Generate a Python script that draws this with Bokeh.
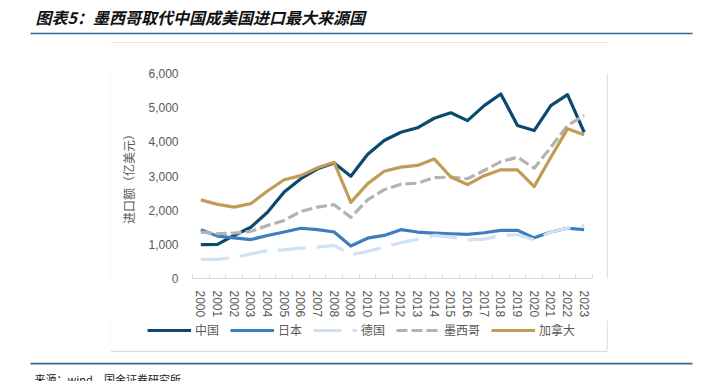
from bokeh.plotting import figure
from bokeh.models import (Legend, LegendItem, FixedTicker, NumeralTickFormatter, Range1d)
from bokeh.layouts import column, row
from bokeh.core.properties import value
from bokeh.embed import file_html
from bokeh.resources import INLINE

years = list(range(2000, 2024))
year_labels = [str(y) for y in years]

china = [990, 1000, 1260, 1500, 1940, 2530, 2920, 3210, 3380, 2990, 3630, 4040,
         4280, 4410, 4690, 4850, 4620, 5060, 5400, 4480, 4330, 5060, 5380, 4280]
japan = [1430, 1240, 1190, 1140, 1260, 1360, 1470, 1430, 1360, 950, 1180, 1260,
         1430, 1360, 1330, 1310, 1290, 1340, 1410, 1410, 1190, 1360, 1470, 1430]
germany = [560, 560, 620, 720, 820, 840, 890, 920, 970, 700, 790, 920,
           1050, 1150, 1260, 1210, 1130, 1150, 1260, 1280, 1130, 1360, 1470, 1550]
mexico = [1360, 1310, 1330, 1380, 1550, 1700, 1960, 2090, 2160, 1790, 2300, 2600,
          2760, 2790, 2950, 2970, 2920, 3160, 3420, 3550, 3230, 3840, 4480, 4770]
canada = [2300, 2170, 2090, 2190, 2560, 2890, 3010, 3240, 3400, 2230, 2770, 3140,
          3260, 3310, 3500, 2970, 2750, 3010, 3180, 3180, 2690, 3550, 4380, 4210]

series_names = ["中国", "日本", "德国", "墨西哥", "加拿大"]
y_ticks = [0, 1000, 2000, 3000, 4000, 5000, 6000]

title_text = "图表5：墨西哥取代中国成美国进口最大来源国"
source_text = "来源：wind，国金证券研究所"
y_label = "进口额（亿美元）"

CJK = "Noto Sans CJK SC"
LAT = "Liberation Sans"
GRAY = "#595959"
RULE = "#2d6a98"
BOX = "#dcdcdc"

W = 700


def deco(width, height):
    f = figure(width=width, height=height, output_backend="svg", toolbar_location=None,
               x_range=Range1d(0, width), y_range=Range1d(height, 0),
               min_border=0, x_axis_type=None, y_axis_type=None)
    f.outline_line_color = None
    f.grid.visible = False
    f.border_fill_color = "white"
    f.background_fill_color = "white"
    return f


def side_pair(h):
    lf = deco(111, h)
    lf.quad(left=[110.2], right=[111.5], top=[0], bottom=[h], fill_color=BOX,
            line_color=None)
    rf = deco(W - 606, h)
    rf.quad(left=[0], right=[1.3], top=[0], bottom=[h], fill_color=BOX,
            line_color=None)
    return lf, rf


# header (page y 0..43)
head = deco(W, 43)
head.text(x=[35], y=[16], text=[title_text], text_font=value(CJK),
          text_font_size="16px", text_font_style="bold italic",
          text_color="#111111", text_baseline="middle", text_align="left")
head.quad(left=[30], right=[692], top=[32.2], bottom=[33.8], fill_color=RULE,
          line_color=None)
head.quad(left=[110.2], right=[607], top=[41.8], bottom=[43.5], fill_color=BOX,
          line_color=None)

# main chart (page x 111..606, y 43..320)
MH = 277
p = figure(width=495, height=MH, output_backend="svg", toolbar_location=None,
           min_border_left=81, min_border_right=14, min_border_top=30,
           min_border_bottom=42,
           x_range=Range1d(1999.5, 2023.5), y_range=Range1d(0, 6000))
p.outline_line_color = None
p.grid.visible = False
p.background_fill_color = "white"
p.border_fill_color = "white"

xa = p.xaxis[0]
xa.ticker = FixedTicker(ticks=years, minor_ticks=[y - 0.5 for y in years] + [2023.5])
xa.major_label_overrides = {y: s for y, s in zip(years, year_labels)}
xa.major_label_orientation = "vertical"
xa.major_tick_line_color = None
xa.major_tick_in = 0
xa.major_tick_out = 0
xa.minor_tick_in = 4
xa.minor_tick_out = 0
xa.minor_tick_line_color = "#d9d9d9"
xa.axis_line_color = "#d9d9d9"
xa.major_label_standoff = 12
xa.major_label_text_font = LAT
xa.major_label_text_font_size = "12px"
xa.major_label_text_color = GRAY

ya = p.yaxis[0]
ya.ticker = FixedTicker(ticks=y_ticks)
ya.formatter = NumeralTickFormatter(format="0,0")
ya.axis_line_color = None
ya.major_tick_line_color = None
ya.minor_tick_line_color = None
ya.major_tick_in = 0
ya.major_tick_out = 0
ya.major_label_standoff = 14
ya.major_label_text_font = LAT
ya.major_label_text_font_size = "12px"
ya.major_label_text_color = GRAY
ya.axis_label = y_label
ya.axis_label_text_font = CJK
ya.axis_label_text_font_size = "12px"
ya.axis_label_text_font_style = "normal"
ya.axis_label_text_color = GRAY
ya.axis_label_standoff = 8

styles = [
    (china, "#0b4a6e", "solid"),
    (japan, "#3e7ec0", "solid"),
    (germany, "#cfe2f3", "28 11"),
    (mexico, "#b3b3b3", "11 4"),
    (canada, "#c29b57", "solid"),
]

# legend strip (page x 111..606, y 320..350)
LH = 30
strip = deco(495, LH)
items = []
for name, (vals, color, dash) in zip(series_names, styles):
    p.line(years, vals, line_color=color, line_width=3.2, line_dash=dash,
           line_join="round")
    # legend proxy with the same style, placed outside the strip's visible range
    proxy = strip.line(x=[-50, -40], y=[-50, -50], line_color=color,
                       line_width=3.2, line_dash=dash)
    items.append(LegendItem(label=name, renderers=[proxy]))

legend = Legend(items=items, orientation="horizontal", location=(36, 12),
                glyph_width=44, glyph_height=16, label_height=16,
                label_standoff=4, spacing=11, padding=0, margin=0,
                border_line_color=None, background_fill_alpha=0,
                label_text_font=CJK, label_text_font_size="12px",
                label_text_color=GRAY)
strip.add_layout(legend, "center")

# footer (page y 350..381)
foot = deco(W, 31)
foot.quad(left=[110.2], right=[607], top=[0], bottom=[1.6], fill_color=BOX,
          line_color=None)
foot.quad(left=[30], right=[692], top=[12.3], bottom=[13.9], fill_color=RULE,
          line_color=None)
foot.text(x=[34], y=[28], text=[source_text], text_font=value(CJK),
          text_font_size="11px", text_color="#222222", text_baseline="middle",
          text_align="left")

l1, r1 = side_pair(MH)
l2, r2 = side_pair(LH)
layout = column(head, row(l1, p, r1), row(l2, strip, r2), foot)
open("out.html", "w").write(file_html(layout, INLINE))
